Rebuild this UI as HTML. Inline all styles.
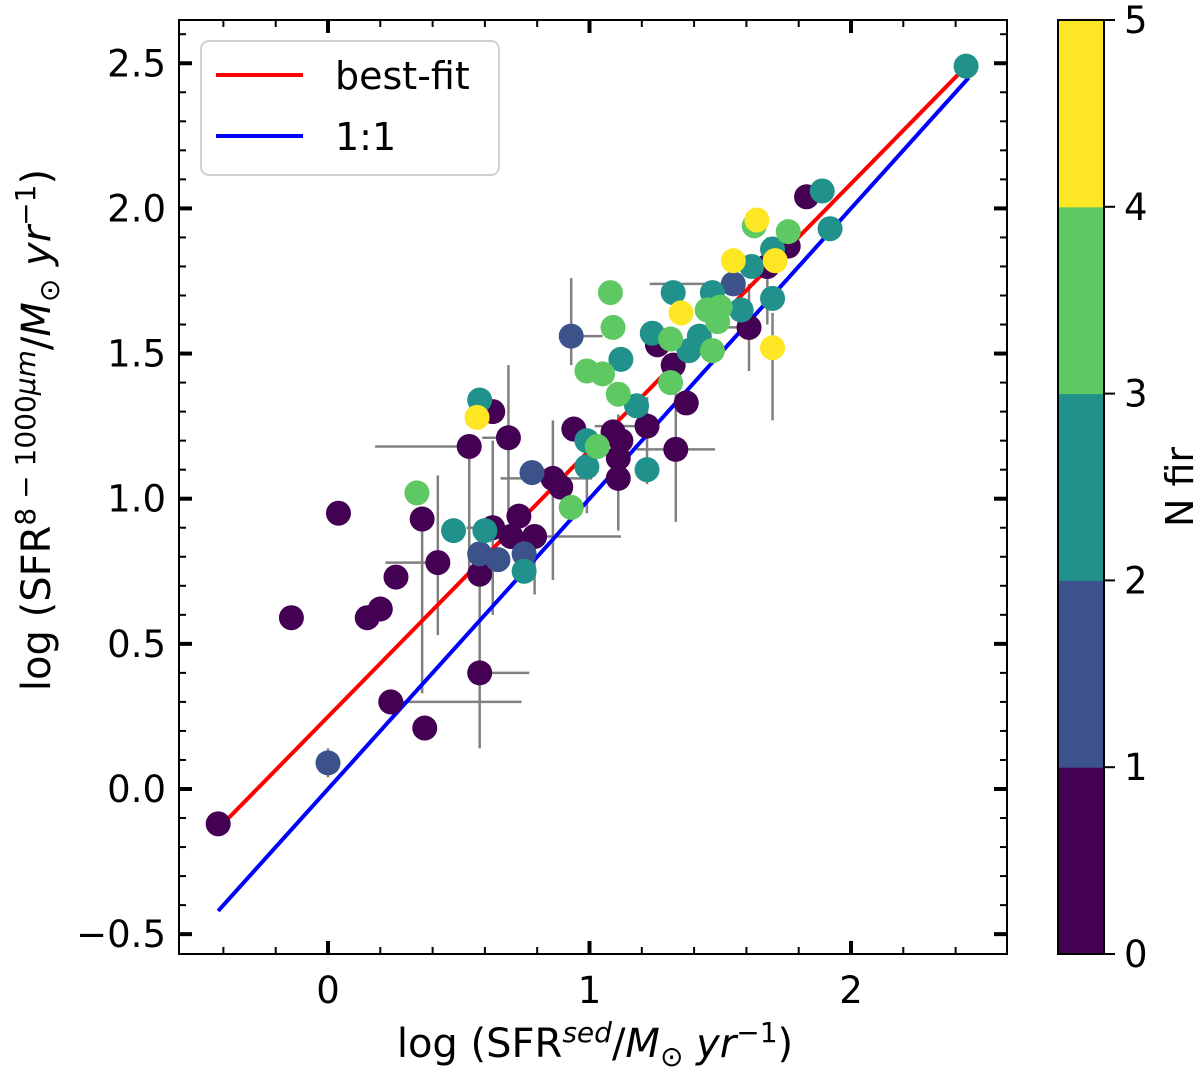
<!DOCTYPE html>
<html><head><meta charset="utf-8"><style>
html,body{margin:0;padding:0;background:#fff;}
svg{display:block;font-family:"DejaVu Sans","Liberation Sans",sans-serif;}
</style></head><body>
<svg id="chart" width="1200" height="1072" viewBox="0 0 1200 1072" xmlns="http://www.w3.org/2000/svg">
<g id="errs"></g>
<g id="lines"></g>
<g id="pts"></g>
<g id="axes"></g>
<g id="legend">
  <rect x="201" y="41" width="298" height="134" rx="8" fill="#fff" fill-opacity="0.8" stroke="#d0d0d0" stroke-width="2"/>
  <line x1="216" y1="75" x2="303" y2="75" stroke="#ff0000" stroke-width="4"/>
  <text x="335" y="89" font-size="38">best-fit</text>
  <line x1="216" y1="136" x2="303" y2="136" stroke="#0000ff" stroke-width="4"/>
  <text x="335" y="150" font-size="38">1:1</text>
</g>
<g id="cbar"></g>
<text x="595" y="1057" font-size="40" text-anchor="middle">log (SFR<tspan font-size="28" dy="-15" font-style="italic">sed</tspan><tspan dy="15">/</tspan><tspan font-style="italic">M</tspan><tspan font-size="28" dy="9">⊙</tspan><tspan dy="-9" font-style="italic"> yr</tspan><tspan font-size="28" dy="-15">−1</tspan><tspan dy="15">)</tspan></text>
<text transform="translate(50,430) rotate(-90)" font-size="40" text-anchor="middle">log (SFR<tspan font-size="28" dy="-15">8 − 1000</tspan><tspan font-size="28" font-style="italic">μm</tspan><tspan dy="15">/</tspan><tspan font-style="italic">M</tspan><tspan font-size="28" dy="9">⊙</tspan><tspan dy="-9" font-style="italic"> yr</tspan><tspan font-size="28" dy="-15">−1</tspan><tspan dy="15">)</tspan></text>
<text transform="translate(1193,487) rotate(-90)" font-size="38" text-anchor="middle">N fir</text>
</svg>
<script>
const xVals=[-0.42,-0.14,0.04,0.15,0.20,0.26,0.24,0.37,0.36,0.42,0.54,0.63,0.69,0.58,0.58,0.63,0.73,0.70,0.79,0.86,0.89,0.94,1.09,1.12,1.11,1.11,1.22,1.33,1.37,1.26,1.32,1.61,1.68,1.76,1.83,
0.00,0.93,0.78,0.58,0.65,0.75,1.55,
0.58,0.48,0.60,0.75,0.99,0.99,1.22,1.18,1.12,1.24,1.32,1.38,1.42,1.47,1.58,1.62,1.70,1.70,1.89,1.92,2.44,
0.34,0.93,1.03,0.99,1.05,1.11,1.08,1.09,1.31,1.31,1.45,1.49,1.47,1.50,1.63,1.76,
0.57,1.35,1.55,1.64,1.71,1.70];
const yVals=[-0.12,0.59,0.95,0.59,0.62,0.73,0.30,0.21,0.93,0.78,1.18,1.30,1.21,0.40,0.74,0.90,0.94,0.87,0.87,1.07,1.04,1.24,1.23,1.20,1.14,1.07,1.25,1.17,1.33,1.53,1.46,1.59,1.80,1.87,2.04,
0.09,1.56,1.09,0.81,0.79,0.81,1.74,
1.34,0.89,0.89,0.75,1.20,1.11,1.10,1.32,1.48,1.57,1.71,1.51,1.56,1.71,1.65,1.80,1.86,1.69,2.06,1.93,2.49,
1.02,0.97,1.18,1.44,1.43,1.36,1.71,1.59,1.40,1.55,1.65,1.61,1.51,1.66,1.94,1.92,
1.28,1.64,1.82,1.96,1.82,1.52];
const nFir=[0,0,0,0,0,0,0,0,0,0,0,0,0,0,0,0,0,0,0,0,0,0,0,0,0,0,0,0,0,0,0,0,0,0,0,
1,1,1,1,1,1,1,
2,2,2,2,2,2,2,2,2,2,2,2,2,2,2,2,2,2,2,2,2,
3,3,3,3,3,3,3,3,3,3,3,3,3,3,3,3,
4,4,4,4,4,4];
// error bars: x, y, xLow, xHigh, yLow, yHigh
const errX=[0.54,0.58,0.24,0.36,0.00,0.63,0.58,0.42,0.79,1.11,0.99,1.70,1.55,0.93,1.61,1.33,0.86,0.69,1.22,1.68];
const errY=[1.18,0.40,0.30,0.93,0.09,0.90,0.74,0.78,0.87,1.14,1.20,1.52,1.74,1.56,1.59,1.17,1.07,1.21,1.25,1.80];
const errXlo=[0.36,0,0,0,0,0.1,0,0.2,0,0,0.05,0,0.32,0,0.1,0.15,0.2,0.1,0.2,0];
const errXhi=[0,0.19,0.5,0,0,0.1,0,0,0.33,0,0,0,0,0.12,0,0.15,0.15,0,0,0];
const errYlo=[0.45,0,0,0.6,0.05,0.3,0.6,0.25,0.2,0.25,0.25,0.25,0,0.1,0.15,0.25,0.35,0.25,0.2,0.2];
const errYhi=[0,0,0,0,0.05,0.3,0,0.3,0,0.15,0,0.12,0,0.2,0.15,0.2,0.2,0.25,0.1,0.1];
const fitSlope=0.918, fitIntercept=0.249;
const lineXRange=[-0.42,2.45];
const xTicks=[0,1,2], yTicks=[-0.5,0,0.5,1,1.5,2,2.5];
const yTickLabels=["−0.5","0.0","0.5","1.0","1.5","2.0","2.5"];
const cbTicks=[0,1,2,3,4,5];
const cmap=["#440154","#3b528b","#21918c","#5ec962","#fde725"];

const L=179,R=1007,T=20,B=954;
const sx=v=>328+v*261.5, sy=v=>789-v*290.3;
const NS="http://www.w3.org/2000/svg";
function mk(parent,tag,attrs){const e=document.createElementNS(NS,tag);for(const k in attrs)e.setAttribute(k,attrs[k]);parent.appendChild(e);return e;}
const errs=document.getElementById('errs');
for(let i=0;i<errX.length;i++){
  const cx=sx(errX[i]),cy=sy(errY[i]);
  let l=mk(errs,'line',{x1:sx(errX[i]-errXlo[i]),x2:sx(errX[i]+errXhi[i]),y1:cy,y2:cy,stroke:'#808080','stroke-width':2.5});
  
  
  let v=mk(errs,'line',{x1:cx,x2:cx,y1:sy(errY[i]-errYlo[i]),y2:sy(errY[i]+errYhi[i]),stroke:'#808080','stroke-width':2.5});
  
  
}
const lines=document.getElementById('lines');
let rl=mk(lines,'line',{x1:sx(lineXRange[0]),y1:sy(fitIntercept+fitSlope*lineXRange[0]),x2:sx(lineXRange[1]),y2:sy(fitIntercept+fitSlope*lineXRange[1]),stroke:'#ff0000','stroke-width':4});


let bl=mk(lines,'line',{x1:sx(lineXRange[0]),y1:sy(lineXRange[0]),x2:sx(lineXRange[1]),y2:sy(lineXRange[1]),stroke:'#0000ff','stroke-width':4});


const pts=document.getElementById('pts');
for(let i=0;i<xVals.length;i++){
  const c=mk(pts,'circle',{cx:sx(xVals[i]),cy:sy(yVals[i]),r:12.5,fill:cmap[nFir[i]]});
  
  
}
const ax=document.getElementById('axes');
let fr=mk(ax,'rect',{x:L,y:T,width:R-L,height:B-T,fill:'none',stroke:'#000','stroke-width':2});


for(let v=-0.4;v<=2.61;v+=0.2){
  const x=sx(Math.round(v*10)/10);
  if(x<L||x>R)continue;
  mk(ax,'line',{x1:x,x2:x,y1:B,y2:B-7,stroke:'#000','stroke-width':2});
  mk(ax,'line',{x1:x,x2:x,y1:T,y2:T+7,stroke:'#000','stroke-width':2});
}
for(let k=-6;k<=27;k++){
  const y=sy(k/10);
  if(y<T||y>B)continue;
  mk(ax,'line',{x1:L,x2:L+7,y1:y,y2:y,stroke:'#000','stroke-width':2});
  mk(ax,'line',{x1:R,x2:R-7,y1:y,y2:y,stroke:'#000','stroke-width':2});
}
xTicks.forEach(v=>{const x=sx(v);
  mk(ax,'line',{x1:x,x2:x,y1:B,y2:B-13,stroke:'#000','stroke-width':4});
  mk(ax,'line',{x1:x,x2:x,y1:T,y2:T+13,stroke:'#000','stroke-width':4});
  const t=mk(ax,'text',{x:x,y:B+49,'font-size':37,'text-anchor':'middle'});t.textContent=String(v);
  
  
});
yTicks.forEach((v,i)=>{const y=sy(v);
  mk(ax,'line',{x1:L,x2:L+13,y1:y,y2:y,stroke:'#000','stroke-width':4});
  mk(ax,'line',{x1:R,x2:R-13,y1:y,y2:y,stroke:'#000','stroke-width':4});
  const t=mk(ax,'text',{x:166,y:y+13,'font-size':37,'text-anchor':'end'});t.textContent=yTickLabels[i];
  
  
});
const cb=document.getElementById('cbar');
const cbL=1058,cbR=1104,cbT=20,cbB=954,seg=(cbB-cbT)/5;
cmap.forEach((c,i)=>{const r=mk(cb,'rect',{x:cbL,y:cbB-(i+1)*seg,width:cbR-cbL,height:seg+0.5,fill:c});
  
  
});
mk(cb,'rect',{x:cbL,y:cbT,width:cbR-cbL,height:cbB-cbT,fill:'none',stroke:'#000','stroke-width':2});
cbTicks.forEach(v=>{const y=cbB-v*seg;
  mk(cb,'line',{x1:cbR,x2:cbR+11,y1:y,y2:y,stroke:'#000','stroke-width':2});
  const t=mk(cb,'text',{x:1124,y:y+13,'font-size':37});t.textContent=String(v);
  
  
});
</script>
</body></html>
